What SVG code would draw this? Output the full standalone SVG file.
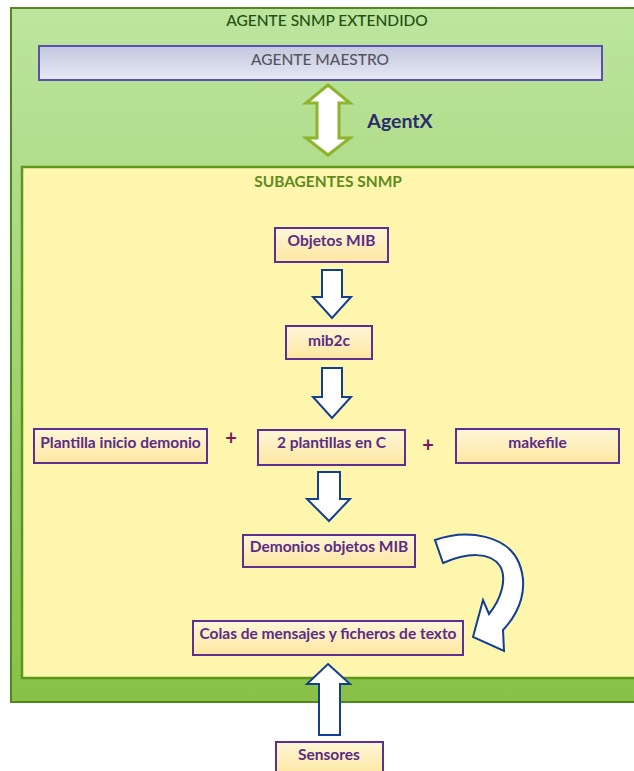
<svg xmlns="http://www.w3.org/2000/svg" width="634" height="771" viewBox="0 0 634 771">
<defs>
<linearGradient id="gOuter" x1="0" y1="0" x2="0" y2="1">
<stop offset="0" stop-color="#bde59f"/><stop offset="1" stop-color="#88c146"/>
</linearGradient>
<linearGradient id="gMaestro" x1="0" y1="0" x2="0" y2="1">
<stop offset="0" stop-color="#c4c8de"/><stop offset="1" stop-color="#e6e8f4"/>
</linearGradient>
<linearGradient id="gBox" x1="0" y1="0" x2="0" y2="1">
<stop offset="0" stop-color="#fdf6d8"/><stop offset="1" stop-color="#fde7a0"/>
</linearGradient>
<style>
.box{fill:url(#gBox);stroke:#5e2f92;stroke-width:2}
.lbl{font-family:Lato,"Liberation Sans",sans-serif;font-weight:bold;font-size:15.5px;fill:#5b2c86;text-anchor:middle}
.blk{fill:#ffffff;stroke:#123f93;stroke-width:2;stroke-linejoin:miter}
.plus{font-family:Lato,"Liberation Sans",sans-serif;font-weight:bold;font-size:20px;fill:#7a1a5e;text-anchor:middle}
</style>
</defs>
<g id="agente-extendido">
<rect x="11" y="8" width="630" height="694" fill="url(#gOuter)" stroke="#4f8a1c" stroke-width="2"/>
<text x="327" y="26" font-family="Lato,'Liberation Sans',sans-serif" font-weight="500" font-size="15.5" fill="#22500e" text-anchor="middle">AGENTE SNMP EXTENDIDO</text>
</g>
<g id="agente-maestro">
<rect x="39" y="46" width="563" height="34" fill="url(#gMaestro)" stroke="#5b4fb0" stroke-width="2"/>
<text x="320" y="65" font-family="Lato,'Liberation Sans',sans-serif" font-weight="500" font-size="15.5" fill="#555560" text-anchor="middle">AGENTE MAESTRO</text>
</g>
<g id="subagentes">
<rect x="22" y="167" width="620" height="511" fill="#fff6ae" stroke="#5e961c" stroke-width="2.5"/>
<text x="328" y="187" font-family="Lato,'Liberation Sans',sans-serif" font-weight="bold" font-size="15.5" fill="#5e8a1e" text-anchor="middle">SUBAGENTES SNMP</text>
</g>
<g id="objetos-mib"><rect class="box" x="275" y="228" width="113" height="34"/><text class="lbl" x="331.5" y="246">Objetos MIB</text></g>
<g id="mib2c"><rect class="box" x="286" y="326" width="86" height="33"/><text class="lbl" x="329" y="346">mib2c</text></g>
<g id="plantilla-inicio"><rect class="box" x="34" y="429" width="173" height="34"/><text class="lbl" x="120.5" y="448">Plantilla inicio demonio</text></g>
<g id="plantillas-c"><rect class="box" x="258" y="430" width="147" height="35"/><text class="lbl" x="331.5" y="448">2 plantillas en C</text></g>
<g id="makefile"><rect class="box" x="456" y="429" width="163" height="34"/><text class="lbl" x="537.5" y="448">makefile</text></g>
<g id="demonios"><rect class="box" x="243" y="535" width="172" height="32"/><text class="lbl" x="329" y="552">Demonios objetos MIB</text></g>
<g id="colas"><rect class="box" x="193" y="621" width="270" height="34"/><text class="lbl" x="328" y="639">Colas de mensajes y ficheros de texto</text></g>
<g id="sensores"><rect class="box" x="276" y="742" width="107" height="34"/><text class="lbl" x="329" y="760">Sensores</text></g>
<g id="connectors">
<path d="M328,85 L350,103 L339,103 L339,138 L350,138 L328,155 L306,138 L317,138 L317,103 L306,103 Z" fill="#ffffff" stroke="#8db52c" stroke-width="3" stroke-linejoin="miter"/>
<text x="400" y="128" font-family="Lato,'Liberation Sans',sans-serif" font-weight="bold" font-size="19.5" fill="#2b2b6c" text-anchor="middle">AgentX</text>
<path class="blk" d="M322,270 L342,270 L342,297 L351,297 L332,318 L313,297 L322,297 Z"/>
<path class="blk" d="M322,368 L342,368 L342,397 L351,397 L332,418 L313,397 L322,397 Z"/>
<path class="blk" d="M318,472 L340,472 L340,499 L350,499 L329,521 L307,499 L318,499 Z"/>
<path class="blk" d="M435,540 C468,528 508,536 519,563 C529,588 520,612 503,630 L504,651 L473,637 L483,600 L489,614 C502,598 507,578 500,566 C490,551 466,553 443,563 Z"/>
<path class="blk" d="M328,664 L350,684 L340,684 L340,735 L319,735 L319,684 L307,684 Z"/>
<text class="plus" x="231" y="445">+</text>
<text class="plus" x="428" y="452">+</text>
</g>
</svg>
